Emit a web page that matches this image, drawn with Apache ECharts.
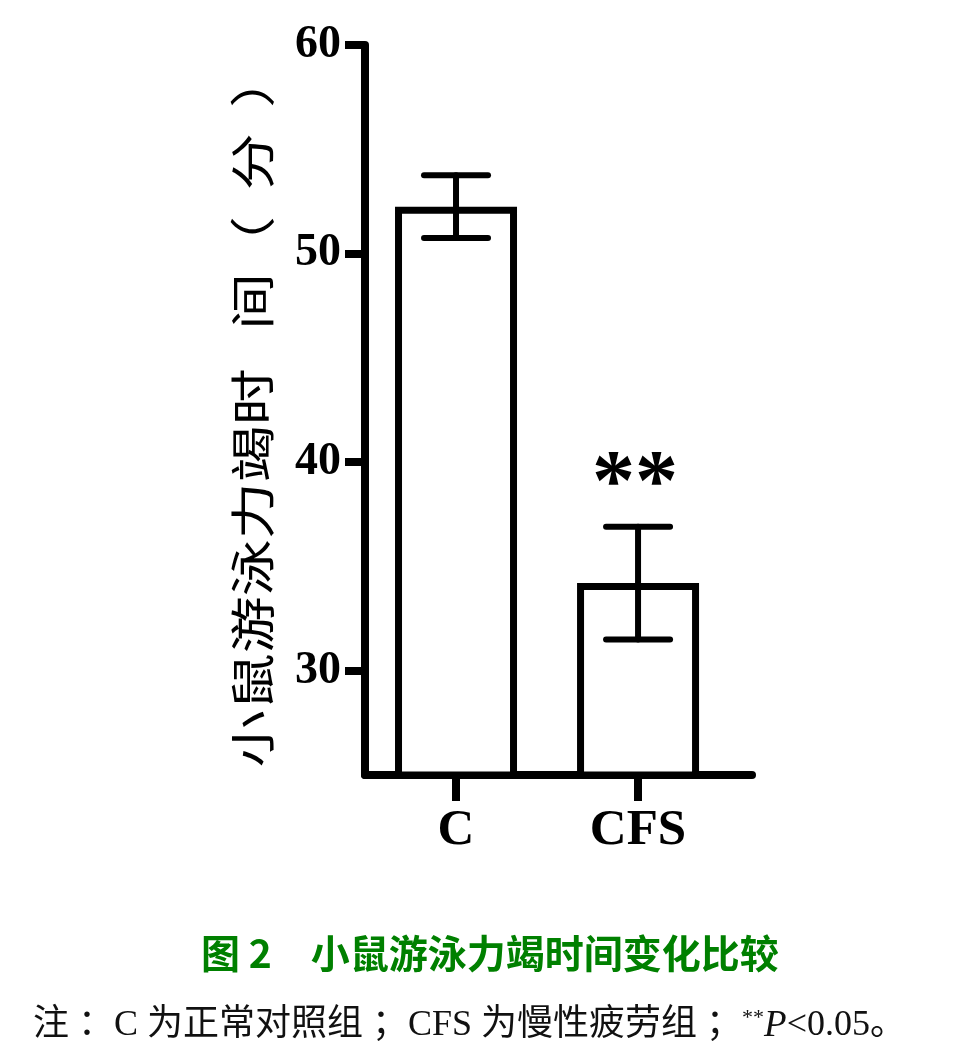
<!DOCTYPE html>
<html>
<head>
<meta charset="utf-8">
<script src="https://cdn.jsdelivr.net/npm/echarts@6/dist/echarts.min.js"></script>
<style>
  html, body { margin: 0; padding: 0; background: #fff; }
  #chart { width: 957px; height: 1064px; }
</style>
</head>
<body>
<div id="chart"></div>
<script>
// groups and values
var categories = ['C', 'CFS'];
var groupPos = [0.5, 1.5];
var means = [52.25, 34.2];
var errors = [1.5, 2.7];
var sigMarks = ['', '**'];
var yTicks = [30, 40, 50, 60];
var yTitle = '小鼠游泳力竭时   间（  分  ）';

var chart = echarts.init(document.getElementById('chart'));

var barData = [];
var errData = [];
for (var i = 0; i < categories.length; i++) {
    barData.push([groupPos[i], means[i]]);
    errData.push([groupPos[i], means[i] - errors[i], means[i] + errors[i], i]);
}

var serif = "'Liberation Serif', 'Times New Roman', serif";
var cjk = "'Noto Sans CJK SC', sans-serif";

var option = {
    backgroundColor: '#fff',
    animation: false,
    title: [{
        text: '图 2　小鼠游泳力竭时间变化比较',
        left: 196,
        top: 929,
        textStyle: { fontFamily: cjk, fontSize: 39, fontWeight: 'bold', color: '#008000' }
    }, {
        text: '注 ：C 为正常对照组 ；CFS 为慢性疲劳组 ；{sup|**}{it|P}<0.05。',
        left: 28,
        top: 1002,
        textStyle: {
            fontFamily: serif + ", 'Noto Sans CJK SC'",
            fontSize: 36, fontWeight: 'normal', color: '#111',
            rich: {
                sup: { fontFamily: serif, fontSize: 22, color: '#111', verticalAlign: 'top', padding: [0, 0, 16, 0] },
                it: { fontFamily: serif, fontSize: 37, fontStyle: 'italic', color: '#111' }
            }
        }
    }],
    grid: { left: 365, right: 205, top: 45, bottom: 289 },
    graphic: [{
        type: 'text',
        x: 253,
        y: 409,
        rotation: Math.PI / 2,
        scaleY: 0.8,
        style: {
            text: yTitle,
            fill: '#000',
            font: '57px ' + cjk,
            align: 'center',
            verticalAlign: 'middle'
        }
    }],
    xAxis: {
        type: 'value',
        min: 0,
        max: 2.126,
        splitLine: { show: false },
        axisLine: { show: true, lineStyle: { color: '#000', width: 8 } },
        axisTick: { show: true, customValues: groupPos, length: 26, lineStyle: { color: '#000', width: 8 } },
        axisLabel: {
            customValues: groupPos,
            margin: 30,
            fontFamily: serif, fontWeight: 'bold', fontSize: 51, color: '#000',
            formatter: function (v) { return categories[groupPos.indexOf(v)] || ''; }
        }
    },
    yAxis: {
        type: 'value',
        min: 25,
        max: 60,
        splitLine: { show: false },
        axisLine: { show: true, lineStyle: { color: '#000', width: 8 } },
        axisTick: { show: true, customValues: yTicks, length: 20, lineStyle: { color: '#000', width: 8 } },
        axisLabel: {
            customValues: yTicks,
            margin: 24,
            fontFamily: serif, fontWeight: 'bold', fontSize: 46, color: '#000'
        }
    },
    series: [{
        type: 'bar',
        data: barData,
        barWidth: 122,
        itemStyle: { color: '#fff', borderColor: '#000', borderWidth: 7 }
    }, {
        type: 'custom',
        data: errData,
        z: 5,
        renderItem: function (params, api) {
            var x = api.value(0);
            var lo = api.coord([x, api.value(1)]);
            var hi = api.coord([x, api.value(2)]);
            var half = 32;
            var st = { stroke: '#000', lineWidth: 6, lineCap: 'round', fill: null };
            var kids = [
                { type: 'line', shape: { x1: lo[0], y1: lo[1], x2: hi[0], y2: hi[1] }, style: st },
                { type: 'line', shape: { x1: hi[0] - half, y1: hi[1], x2: hi[0] + half, y2: hi[1] }, style: st },
                { type: 'line', shape: { x1: lo[0] - half, y1: lo[1], x2: lo[0] + half, y2: lo[1] }, style: st }
            ];
            var mark = sigMarks[api.value(3)];
            if (mark) {
                kids.push({
                    type: 'text',
                    x: hi[0] - 3,
                    y: hi[1] - 40,
                    style: {
                        text: mark, fill: '#000',
                        font: 'bold 86px ' + serif,
                        align: 'center', verticalAlign: 'middle'
                    }
                });
            }
            return { type: 'group', children: kids };
        }
    }]
};

chart.setOption(option);
</script>
</body>
</html>
